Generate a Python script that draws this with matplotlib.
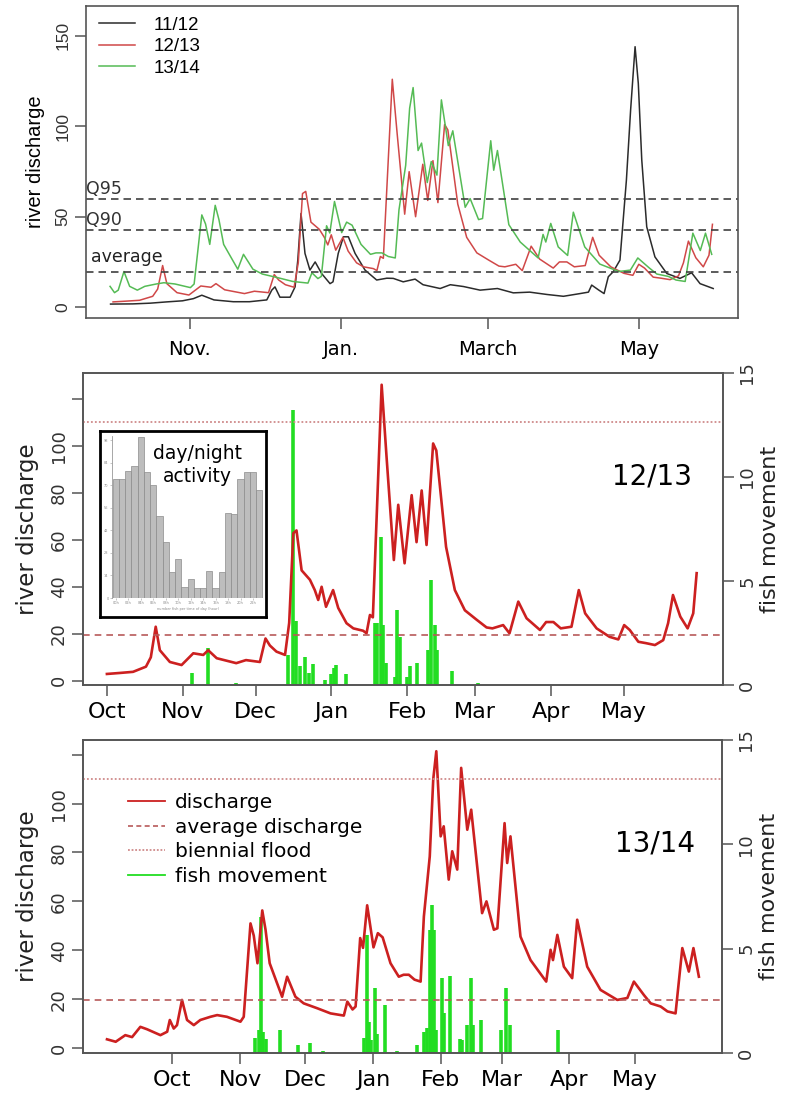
import numpy as np
import matplotlib
matplotlib.use('Agg')
import matplotlib.pyplot as plt
from matplotlib.lines import Line2D
import matplotlib.transforms as mtransforms

# ── data (x = days since 1 October) ──────────────────────────────────────────
# discharge 2011/12 (top panel only)
q_1112 = [(-1, 1.7), (8, 1.8), (15, 2.2), (21.6, 2.9), (28, 3.5), (32.4, 4.7),
          (35.8, 6.6), (40.7, 4), (48.5, 3), (55, 3), (62, 4), (64, 9.4),
          (65.3, 11.2), (67.3, 5.5), (71.4, 5.5), (73.4, 11.2), (74.5, 26),
          (75.8, 51.8), (77.4, 29.7), (79.4, 20.5), (81.5, 25), (84.1, 18.6),
          (87.5, 13), (88.7, 14), (90.8, 29.7), (92.9, 38.9), (94.9, 38.9),
          (97.6, 29.7), (101.6, 20.5), (106.3, 15), (110.4, 16), (113, 15.9),
          (117, 14), (121.8, 15.5), (125, 12.4), (131.9, 10.3), (136, 12.4),
          (141.3, 11.4), (148, 9.4), (155, 10.3), (161.4, 7.9), (168, 8.3),
          (175, 7), (181.6, 6), (188.3, 7.5), (191.7, 8.3), (193, 12.2),
          (195.9, 9.4), (198, 7.5), (199.7, 16.8), (201.7, 19.6), (204.4, 26),
          (207, 70.2), (208.7, 109), (210.5, 144), (211.8, 123.7), (213.2, 81.3),
          (215.2, 44.4), (218.5, 27.8), (223.3, 18.6), (228.6, 15.9),
          (233.3, 19), (236.7, 13), (242, 10.3)]

# discharge 2012/13
q_1213 = [(0, 2.9), (5, 3.3), (10.7, 3.8), (16, 6), (18, 10), (20, 23),
          (21.7, 13), (25.8, 8), (30.6, 6.7), (35.4, 11.7), (39.5, 11), (41.5, 13),
          (45, 9.6), (53, 7.5), (57, 8.8), (62.7, 8), (65, 18), (66.8, 15),
          (69.5, 12.4), (73, 11), (74.7, 24.6), (76.4, 62.8), (77.7, 64),
          (79.8, 47), (83.2, 43), (85.2, 38.6), (86.6, 34.4), (88, 40),
          (89.8, 31.5), (92.7, 38.6), (94.8, 31), (98.2, 24.5), (101, 22.3),
          (105, 21.3), (106.4, 20.2), (107.8, 28), (109, 27), (112.6, 126),
          (114.6, 95.4), (117.6, 51.4), (119.4, 74.9), (122, 50), (124.9, 79),
          (126.9, 59), (129, 81), (131, 57.8), (133.7, 101), (135, 98), (139, 57),
          (142.6, 38.6), (146.7, 30), (151.5, 26), (155.6, 22.7), (158, 22.3),
          (162.4, 23.7), (165, 20.2), (168.6, 33.7), (172, 26.6), (177.5, 21.6),
          (180, 25), (183, 25), (186, 22.3), (190.4, 23), (193.4, 38.6),
          (196, 28.7), (200.7, 22.3), (206, 18.7), (209.6, 17.6), (212, 23.7),
          (214.3, 21.6), (217.8, 16.6), (221, 16), (224.6, 15.2), (228, 17.3),
          (230, 24.5), (232, 36.5), (235, 27.3), (238, 22.3), (240.3, 28.7),
          (241.7, 45.8)]

# discharge 2013/14 (starts 1 September)
q_1314 = [(-30, 3.6), (-26, 2.6), (-21.6, 5.3), (-18.5, 4.5), (-14.7, 8.7),
          (-11.6, 7.7), (-5.5, 5.3), (-2.4, 6.7), (-1.2, 11.5), (0.6, 8),
          (2.1, 9.4), (4.4, 19.7), (6.7, 11.5), (9.8, 9.4), (12.8, 11.5),
          (17.4, 12.8), (20.5, 13.5), (25, 12.8), (31.2, 10.8), (32.7, 12.8),
          (35.8, 51), (37.3, 46), (39, 34.7), (41.2, 56.3), (42.7, 48.4),
          (44.6, 34.7), (48, 26.5), (50.3, 21), (52.6, 29.2), (56.4, 21),
          (60.2, 18.3), (66.4, 16.3), (72.5, 14.2), (78.6, 13.3), (80.2, 19),
          (82.6, 15.8), (84, 17), (86.1, 45), (87.4, 41), (89.3, 58.4),
          (92.2, 41.2), (94.2, 47), (96.4, 45.3), (100, 34.7), (103.8, 29.2),
          (106, 30), (108.4, 30), (111, 28), (113.8, 27.2), (115.3, 53.8),
          (118, 78.4), (119.6, 110), (121, 121.4), (123, 86.6), (124.4, 90.7),
          (126.7, 68.9), (128.3, 80.5), (130.6, 73), (132.4, 114.6), (135.2, 89.3),
          (137, 97.5), (142, 55.2), (144, 60), (147.4, 48.4), (149, 49),
          (152.3, 92), (153.5, 75.7), (155, 86.6), (159.6, 45.6), (164.2, 36),
          (171.4, 27.2), (173.4, 40.2), (174.5, 36), (176.5, 46.3), (179.5, 33.3),
          (183.3, 28.6), (185.6, 52.5), (190.2, 33.3), (196.3, 23.8), (204, 19.7),
          (208.6, 20.5), (211.6, 27.2), (216.2, 21.7), (219.3, 18.3), (223.9, 17),
          (227, 15), (230.7, 14.2), (233.8, 40.9), (236.8, 31.3), (238.9, 40.9),
          (241.4, 29.2)]

# fish movement per day
fish_1213 = [(35, 0.6), (41.3, 1.8), (53, 0.1), (74.3, 1.44), (76.1, 13.2),
             (77.3, 3.1), (79, 0.9), (81, 1.36), (83, 0.6), (84.3, 1.0),
             (89.3, 0.24), (92, 0.55), (93, 0.8), (94, 0.96), (98, 0.55),
             (109.8, 3.0), (110.8, 3.0), (112.2, 7.1), (113.2, 2.9), (114.3, 1.04),
             (118, 0.4), (119, 3.6), (120, 2.3), (122.8, 0.4), (124.2, 0.9),
             (127, 1.04), (131.7, 1.7), (133, 5.05), (134.4, 2.9), (135.4, 1.7),
             (141.3, 0.67), (152, 0.1)]

fish_1314 = [(38, 0.7), (39.6, 1.1), (40.7, 6.5), (41.6, 1.0), (42.7, 0.65),
             (49.5, 1.1), (57.5, 0.4), (63.3, 0.5), (69, 0.1), (87.8, 0.7),
             (89, 5.65), (90, 1.5), (91, 0.6), (92.8, 3.1), (94, 0.9), (97.4, 2.3),
             (103, 0.1), (112.2, 0.4), (115.3, 1.0), (116.8, 1.2), (118, 5.9),
             (118.8, 7.1), (119.9, 5.9), (121, 1.1), (123.7, 3.6), (124.3, 1.9),
             (127.4, 3.7), (132, 0.65), (133, 0.6), (135.2, 1.35), (136.7, 3.6),
             (137.7, 1.35), (141.6, 1.6), (150.5, 1.1), (152.8, 3.1), (154.7, 1.35),
             (176.7, 1.1)]

# day/night activity inset (24 hourly bars)
hour_activity = [74, 74, 79, 82, 100, 78, 70, 51, 35, 16, 24, 7,
                 12, 6, 6, 17, 6, 16, 53, 52, 74, 78, 78, 67]

Q_AVG, Q90, Q95, Q_FLOOD = 19.5, 42.5, 60, 110

month_days = [0, 31, 61, 92, 123, 151, 182, 212]
month_labels = ['Oct', 'Nov', 'Dec', 'Jan', 'Feb', 'Mar', 'Apr', 'May']
top_days = [31, 92, 151, 212]
top_labels = ['Nov.', 'Jan.', 'March', 'May']

# ── style ────────────────────────────────────────────────────────────────────
VERD = 'DejaVu Sans'
ARIAL = 'Liberation Sans'
SPINE = '#555555'
RED = '#cc2020'
FISH = '#22dd22'

W, H = 785, 1093
fig = plt.figure(figsize=(W / 100, H / 100), dpi=100)


def px_axes(l, t, r, b):
    return fig.add_axes([l / W, 1 - b / H, (r - l) / W, (b - t) / H])


def split(pairs):
    a = np.array(pairs, dtype=float)
    return a[:, 0], a[:, 1]


def style_box(ax):
    for s in ax.spines.values():
        s.set_color(SPINE)
        s.set_linewidth(1.2)
    ax.tick_params(direction='out', length=8, width=1.1, color=SPINE)


d11, v11 = split(q_1112)
d12, v12 = split(q_1213)
d13, v13 = split(q_1314)
f12d, f12v = split(fish_1213)
f13d, f13v = split(fish_1314)

# ─────────────────────────────────────────────────────────────────────────────
# top panel — three seasons
# ─────────────────────────────────────────────────────────────────────────────
ax = px_axes(86, 6, 738, 318)
style_box(ax)
ax.plot(d11, v11, color='#2b2b2b', lw=1.1, label='11/12')
ax.plot(d12, v12, color='#d04848', lw=1.1, label='12/13')
keep = d13 >= -1.3
ax.plot(d13[keep], v13[keep], color='#55bb55', lw=1.1, label='13/14')
for q in (Q95, Q90, Q_AVG):
    ax.axhline(q, color='#404040', lw=1.2, ls=(0, (4.5, 3)))
tr = mtransforms.blended_transform_factory(ax.transAxes, ax.transData)
ax.text(0.0, Q95 + 0.5, 'Q95', transform=tr, fontsize=12.5, family=VERD,
        color='#333333', ha='left', va='bottom')
ax.text(0.0, Q90 + 0.5, 'Q90', transform=tr, fontsize=12.5, family=VERD,
        color='#333333', ha='left', va='bottom')
ax.text(0.007, Q_AVG + 3, 'average', transform=tr, fontsize=12.5, family=VERD,
        color='#222222', ha='left', va='bottom')
ax.set_xlim(-10.9, 252)
ax.set_ylim(-6, 166.5)
ax.set_xticks(top_days)
ax.set_xticklabels(top_labels, fontsize=14, family=VERD)
ax.set_yticks([0, 50, 100, 150])
ax.set_yticklabels(['0', '50', '100', '150'], rotation=90, va='center',
                   fontsize=12.5, family=ARIAL, color='#333333')
ax.tick_params(axis='x', pad=8)
ax.tick_params(axis='y', pad=3)
ax.set_ylabel('river discharge', fontsize=14.5, family=ARIAL, labelpad=8)
ax.legend(loc='upper left', bbox_to_anchor=(0.02, 0.965), frameon=False,
          prop={'family': ARIAL, 'size': 13.5}, handlelength=1.9,
          handletextpad=1.0, labelspacing=0.22, borderaxespad=0, borderpad=0)


# ─────────────────────────────────────────────────────────────────────────────
# season panels — discharge + fish movement
# ─────────────────────────────────────────────────────────────────────────────
def season_panel(box, days, q, fd, fv, xlim, ylim, season, pos_season):
    ax = px_axes(*box)
    axr = ax.twinx()
    ax.set_zorder(axr.get_zorder() + 1)
    ax.patch.set_visible(False)
    style_box(ax)
    style_box(axr)
    axr.vlines(fd, 0, fv, color=FISH, lw=2.6)
    axr.set_ylim(0, 15)
    axr.set_yticks([0, 5, 10, 15])
    axr.set_yticklabels(['0', '5', '10', '15'], rotation=90, va='center',
                        fontsize=13, family=VERD, color='#333333')
    axr.tick_params(axis='y', pad=3)
    axr.set_ylabel('fish movement', fontsize=16, family=VERD, color='#222222',
                   labelpad=3)

    ax.plot(days, q, color=RED, lw=1.9)
    ax.axhline(Q_AVG, color='#b85a5a', lw=1.2, ls=(0, (4, 3)))
    ax.axhline(Q_FLOOD, color='#cf8a8a', lw=1.3, ls=(0, (1, 1.2)))
    ax.set_xlim(*xlim)
    ax.set_ylim(*ylim)
    ax.set_xticks(month_days)
    ax.set_xticklabels(month_labels, fontsize=16, family=VERD)
    ax.tick_params(axis='x', pad=4)
    ax.set_yticks(np.arange(0, 121, 20))
    ax.set_yticklabels(['0', '20', '40', '60', '80', '100', ''], rotation=90,
                       va='center', fontsize=13, family=VERD, color='#333333')
    ax.tick_params(axis='y', pad=3)
    ax.set_ylabel('river discharge', fontsize=16.5, family=VERD, color='#222222',
                  labelpad=8)
    fig.text(pos_season[0] / W, 1 - pos_season[1] / H, season, fontsize=20,
             family=VERD, ha='center', va='center')
    return ax


season_panel((83, 373, 723, 685), d12, v12, f12d, f12v, (-9.8, 252.5), (-1.8, 131),
             '12/13', (652, 476))

ax3 = season_panel((83, 740, 722, 1053), d13, v13, f13d, f13v, (-41, 252),
                   (-2, 126), '13/14', (655, 843))
handles = [Line2D([], [], color=RED, lw=1.3),
           Line2D([], [], color='#b85a5a', lw=1.2, ls=(0, (3, 2))),
           Line2D([], [], color='#cf8a8a', lw=1.3, ls=(0, (1, 1))),
           Line2D([], [], color=FISH, lw=1.3)]
ax3.legend(handles, ['discharge', 'average discharge', 'biennial flood',
                     'fish movement'],
           loc='upper left', bbox_to_anchor=(0.07, 0.83), frameon=False,
           prop={'family': VERD, 'size': 14.5}, handlelength=1.85,
           handletextpad=0.5, labelspacing=0.28, borderaxespad=0, borderpad=0)

# ── day/night inset ─────────────────────────────────────────────────────────
frame = px_axes(100, 431, 266, 617)
frame.set_xticks([])
frame.set_yticks([])
for s in frame.spines.values():
    s.set_linewidth(2)
    s.set_color('black')
frame.set_zorder(10)

ins = px_axes(112, 436, 263, 598)
ins.set_zorder(11)
ins.patch.set_visible(False)
ins.bar(np.arange(24), hour_activity, width=1.0, color='#bdbdbd',
        edgecolor='#8c8c8c', lw=0.5)
ins.set_xlim(-0.6, 23.6)
ins.set_ylim(0, 100.6)
for s in ('top', 'right', 'bottom'):
    ins.spines[s].set_visible(False)
ins.spines['left'].set_color('#999999')
ins.spines['left'].set_linewidth(0.6)
ins.set_yticks(np.arange(0, 101, 14))
ins.set_yticklabels([str(v) for v in range(0, 101, 14)], fontsize=2.5,
                    color='#888888')
ins.set_xticks(np.arange(0, 24, 2))
ins.set_xticklabels(['%02dh' % h for h in range(0, 24, 2)], fontsize=2.5,
                    color='#888888')
ins.tick_params(length=1.5, width=0.4, color='#999999', pad=1)
ins.set_xlabel('number fish per time of day (hour)', fontsize=2.5,
               color='#888888', labelpad=1)
fig.text(197 / W, 1 - 465 / H, 'day/night\nactivity', fontsize=13.5, family=VERD,
         ha='center', va='center', linespacing=1.3, zorder=12)

fig.savefig('out.png', dpi=100)
